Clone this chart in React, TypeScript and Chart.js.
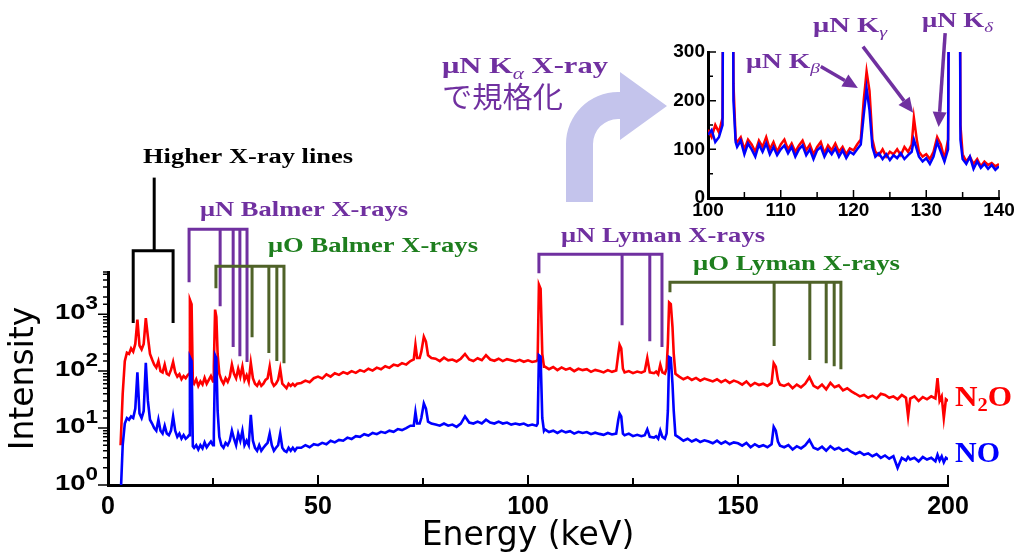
import React, { useEffect, useRef } from 'react';
import { Chart, registerables } from 'chart.js';

Chart.register(...registerables);

// ---------------- Main spectrum (log scale) ----------------
const energyKeV = [
  3, 3.5, 4, 4.5, 5, 5.5, 6, 6.5, 7, 7.5,
  8, 8.5, 9, 9.5, 10, 10.5, 11, 11.5, 12, 12.5,
  13, 13.5, 14, 14.5, 15, 15.5, 16, 16.5, 17, 17.5,
  18, 18.5, 19, 19.3, 19.5, 19.9, 20.2,
  20.5, 21, 21.5, 22, 22.5, 23, 23.5, 24, 24.5, 25, 25.2,
  25.5, 25.8, 26.1, 26.5,
  27, 27.5, 28, 28.5, 29, 29.5, 30, 30.5, 31, 31.5,
  32, 32.5, 33, 33.5, 34, 34.5, 35, 35.5, 36, 36.5,
  37, 37.5, 38, 38.5, 39, 39.5, 40, 40.5, 41, 41.5,
  42, 42.5, 43, 43.5, 44, 44.5, 45,
  46, 47, 48, 49, 50, 51, 52, 53, 54, 55,
  56, 57, 58, 59, 60, 61, 62, 63, 64, 65,
  66, 67, 68, 69, 70, 71, 72,
  72.8, 73.2, 73.6, 74.2, 74.6, 75.2, 75.7, 76.2, 77,
  78, 79, 80, 81, 82, 83, 84, 85, 86, 87,
  88, 89, 90, 91, 92, 93, 94, 95, 96, 97,
  98, 99, 100, 101, 102,
  102.3, 102.6, 103, 103.4, 103.8,
  104, 105, 106, 107, 108, 109, 110, 111, 112, 113,
  114, 115, 116, 117, 118, 119, 120, 121,
  121.5, 121.8, 122.2, 122.6,
  123, 124, 125, 126, 127, 127.8, 128.4, 129, 130, 130.5, 131, 131.5, 132, 132.6, 133,
  133.3, 133.6, 134, 134.4, 134.7, 135.1,
  136, 137, 138, 139, 140, 141, 142, 143, 144, 145,
  146, 147, 148, 149, 150, 151, 152, 153, 154, 155,
  156, 157, 158, 158.5, 159, 159.5, 160, 161, 162, 163,
  164, 165, 166, 167, 168, 169, 170, 171, 172, 173,
  174, 175, 176, 177, 178, 179, 180, 181, 182, 183,
  184, 185, 186, 187, 188, 189, 190, 190.5, 191, 192,
  193, 194, 195, 196, 197, 197.5, 198, 198.5, 199, 199.5, 200,
];

const n2oCounts = [
  5, 40, 150, 210, 200, 250, 220, 300, 800, 280,
  240, 300, 850, 400, 200, 160, 130, 115, 150, 100,
  95, 130, 90, 85, 105, 145, 95, 80, 88, 72,
  82, 75, 85, 90, 1800, 1500, 65,
  60, 72, 55, 66, 58, 76, 60, 70, 82, 66, 120,
  1200, 900, 200, 90,
  70, 60, 75, 65, 80, 130, 90, 75, 110, 80,
  120, 70, 85, 65, 140, 75, 60, 55, 65, 55,
  60, 70, 75, 120, 65, 55, 60, 70, 110, 60,
  55, 50, 60, 55, 60, 55, 60,
  62, 68, 64, 75, 80, 74, 88, 80, 92, 86,
  96, 90, 100, 93, 104, 98, 110, 102, 115, 108,
  122, 114, 130, 124, 138, 130, 150,
  160, 290, 170, 170, 220, 400, 330, 190, 170,
  165, 150, 172, 155, 160, 148, 165, 200, 160, 150,
  168, 155, 190, 160, 152, 165, 150, 162, 155, 148,
  158, 146, 155, 145, 150,
  160, 3300, 2800, 200, 120,
  120, 108, 118, 104, 116, 106, 112, 100, 110, 104,
  108, 97, 105, 100, 95, 104, 97, 102,
  200, 290, 250, 110,
  95, 100, 92, 98, 94, 100, 170, 95, 92, 98, 88, 130, 95, 90, 110,
  300, 1600, 1500, 600, 200, 90,
  80, 72, 78, 70, 76, 68, 74, 70, 66, 72,
  64, 70, 62, 68, 64, 58, 66, 55, 62, 57,
  60, 55, 62, 138, 120, 70, 58, 55, 60, 50,
  58, 52, 60, 78, 55, 50, 58, 48, 62, 52,
  56, 46, 50, 44, 40, 36, 38, 34, 37, 33,
  40, 38, 34, 36, 32, 38, 34, 16, 33, 36,
  30, 35, 32, 36, 33, 75, 30, 36, 15, 32, 30,
];

const noCounts = [
  0.6, 5, 12, 15, 14, 16, 15, 22, 95, 18,
  15, 20, 140, 30, 14, 12, 10, 9, 14, 9,
  8, 11, 8, 7.5, 9, 16, 9, 7, 8, 6.5,
  7.5, 6.5, 7, 7.5, 175, 150, 4.8,
  4.5, 5, 4.2, 5, 4.4, 5.6, 4.6, 5.2, 5.8, 5, 8,
  190, 170, 20, 7,
  5, 4.5, 5.5, 5, 6, 9, 6.5, 5, 8, 6,
  9, 5, 6, 5, 17, 6, 4.5, 4, 5, 4,
  4.5, 5, 5.5, 8, 5, 4, 4.5, 5, 8, 4.5,
  4, 3.8, 4.5, 4, 4.5, 4, 4.5,
  4.5, 5, 4.6, 5.2, 5, 5.5, 5.2, 6, 5.6, 6.2,
  6, 6.8, 6.4, 7.2, 7, 7.8, 7.4, 8.2, 7.8, 8.6,
  8.2, 9, 8.6, 9.6, 9.2, 10, 11,
  11, 19, 12, 12, 15, 27, 22, 13, 12,
  11.5, 11, 12, 11, 11.5, 10.5, 12, 16, 12.5, 12,
  13, 12, 14, 12.5, 12, 13, 12, 12.5, 11.5, 12,
  11.5, 12, 11, 11.5, 11,
  12, 190, 180, 15, 9,
  9.5, 8.5, 9, 8.2, 9, 8.4, 8.8, 8, 8.6, 8.2,
  8.5, 7.8, 8.3, 7.9, 7.6, 8.2, 7.7, 8,
  14, 18, 16, 8,
  7.5, 8, 7.2, 7.6, 7.2, 7.5, 9.5, 7, 6.8, 7.2, 6.5, 9, 7, 6.5, 8,
  20, 177, 170, 60, 20, 7.5,
  6.8, 6, 6.5, 5.8, 6.3, 5.7, 6.1, 5.8, 5.4, 6,
  5.3, 5.8, 5.2, 5.6, 5.4, 4.9, 5.5, 4.6, 5.2, 4.7,
  5, 4.6, 5.2, 10.5, 9, 5.8, 4.9, 4.6, 5, 4.2,
  4.8, 4.4, 5, 6.2, 4.5, 4.2, 4.7, 4, 4.8, 4.2,
  4.5, 4, 4.3, 3.8, 3.5, 3.8, 3.4, 3.6, 3.2, 3.5,
  3, 3.3, 2.9, 3.2, 2, 3, 2.7, 3.1, 2.8, 3,
  2.6, 3.1, 2.8, 3, 2.6, 3.4, 2.7, 3.2, 2.5, 3, 2.8,
];

const yTickPowers = [0, 1, 2, 3];

// ---------------- Inset (normalised, linear) ----------------
const insetEnergyKeV = [
  100, 100.5, 101, 101.5, 102, 102.2, 103.3, 103.5, 103.8, 104,
  104.5, 105, 105.5, 106, 106.5, 107, 107.5, 108, 108.5, 109,
  109.5, 110, 110.5, 111, 111.5, 112, 112.5, 113, 113.5, 114,
  114.5, 115, 115.5, 116, 116.5, 117, 117.5, 118, 118.5, 119,
  119.5, 120, 120.5, 121, 121.4, 121.8, 122.2, 122.6, 123, 123.5,
  124, 124.5, 125, 125.5, 126, 126.5, 127, 127.5, 128, 128.3,
  128.7, 129, 129.5, 130, 130.5, 131, 131.5, 132, 132.5, 133,
  133.3, 134.5, 134.7, 135, 135.5, 136, 136.5, 137, 137.5, 138,
  138.5, 139, 139.5, 140,
];

const insetN2O = [
  140, 125, 150, 135, 165, 1000, 1000, 235, 120, 115,
  125, 100, 120, 110, 95, 118, 105, 125, 100, 115,
  95, 110, 120, 100, 112, 95, 108, 118, 98, 110,
  90, 105, 115, 92, 108, 98, 112, 95, 105, 90,
  102, 98, 110, 120, 200, 260, 220, 120, 95, 88,
  100, 85, 95, 90, 100, 88, 105, 95, 110, 165,
  120, 95, 85, 90, 80, 95, 125, 110, 80, 120,
  1000, 1000, 150, 90, 75, 85, 70, 80, 65, 75,
  68, 72, 65, 70,
];

const insetNO = [
  130, 140, 115, 125, 150, 1000, 1000, 200, 115, 105,
  118, 90, 112, 100, 85, 110, 95, 112, 90, 105,
  88, 100, 108, 92, 105, 85, 100, 108, 88, 100,
  80, 98, 105, 85, 100, 90, 102, 85, 98, 82,
  95, 90, 100, 110, 170, 225, 180, 105, 85, 92,
  80, 90, 78, 88, 82, 92, 80, 88, 95, 120,
  100, 85, 75, 82, 70, 85, 115, 95, 75, 100,
  1000, 1000, 120, 80, 70, 85, 60, 75, 62, 70,
  60, 68, 58, 65,
];

// ---------------- Line assignments (energies in keV, levels in counts) ----------------
const higherLegsKeV = [6.0, 15.5];
const higherLegEnds = [700, 700];
const higherBar = 13000;
const higherStemKeV = 11;
const higherStemTop = 250000;

const nBalmerKeV = [19.3, 26.7, 29.8, 31.4, 33.1];
const nBalmerEnds = [3640, 1380, 264, 183, 144];
const nBalmerBar = 31000;

const oBalmerKeV = [25.7, 34.3, 38.3, 40.2, 41.9];
const oBalmerEnds = [2860, 395, 207, 150, 138];
const oBalmerBar = 6950;

const nLymanKeV = [102.6, 122.4, 129.0, 131.9];
const nLymanEnds = [5240, 641, 336, 264];
const nLymanBar = 11300;

const oLymanKeV = [133.8, 158.6, 167.1, 171.0, 172.9, 174.5];
const oLymanEnds = [2430, 275, 156, 138, 122, 108];
const oLymanBar = 3640;

// inset arrows: [startE, startVal, endE, endVal]
const insetArrows = [
  [115.5, 270, 120.6, 226],
  [121.3, 311, 128.2, 175],
  [132.6, 339, 131.7, 146],
];

const PURPLE = '#7030A0';
const OLIVE = '#4F6228';
const GREEN = '#1E7E1E';
const SERIF = '"Liberation Serif", "Times New Roman", serif';
const SANS = '"Liberation Sans", Arial, sans-serif';

type Run = { t: string; font: string; dy?: number };

function drawRuns(ctx: CanvasRenderingContext2D, runs: Run[], x: number, y: number, targetW: number, color: string) {
  ctx.save();
  ctx.fillStyle = color;
  ctx.textBaseline = 'alphabetic';
  ctx.textAlign = 'left';
  let total = 0;
  for (const r of runs) {
    ctx.font = r.font;
    total += ctx.measureText(r.t).width;
  }
  const sx = targetW ? targetW / total : 1;
  ctx.translate(x, y);
  ctx.scale(sx, 1);
  let cx = 0;
  for (const r of runs) {
    ctx.font = r.font;
    ctx.fillText(r.t, cx, r.dy || 0);
    cx += ctx.measureText(r.t).width;
  }
  ctx.restore();
}

function drawBracket(ctx: CanvasRenderingContext2D, xs: any, ys: any, legs: number[], ends: number[], bar: number, color: string) {
  const yBar = ys.getPixelForValue(bar);
  const px = legs.map((e) => xs.getPixelForValue(e));
  const last = px.length - 1;
  ctx.save();
  ctx.strokeStyle = color;
  ctx.lineWidth = 3;
  ctx.lineJoin = 'miter';
  ctx.beginPath();
  ctx.moveTo(px[0], ys.getPixelForValue(ends[0]));
  ctx.lineTo(px[0], yBar);
  ctx.lineTo(px[last], yBar);
  ctx.lineTo(px[last], ys.getPixelForValue(ends[last]));
  for (let i = 1; i < last; i++) {
    ctx.moveTo(px[i], yBar);
    ctx.lineTo(px[i], ys.getPixelForValue(ends[i]));
  }
  ctx.stroke();
  ctx.restore();
}

function drawArrow(ctx: CanvasRenderingContext2D, x1: number, y1: number, x2: number, y2: number, color: string) {
  const dx = x2 - x1;
  const dy = y2 - y1;
  const len = Math.hypot(dx, dy);
  const ux = dx / len;
  const uy = dy / len;
  const head = 15;
  const hw = 7;
  const bx = x2 - ux * head;
  const by = y2 - uy * head;
  ctx.save();
  ctx.strokeStyle = color;
  ctx.fillStyle = color;
  ctx.lineWidth = 3.5;
  ctx.beginPath();
  ctx.moveTo(x1, y1);
  ctx.lineTo(bx, by);
  ctx.stroke();
  ctx.beginPath();
  ctx.moveTo(x2, y2);
  ctx.lineTo(bx - uy * hw, by + ux * hw);
  ctx.lineTo(bx + uy * hw, by - ux * hw);
  ctx.closePath();
  ctx.fill();
  ctx.restore();
}

const mainDecor = {
  id: 'mainDecor',
  afterDraw(chart: any) {
    const ctx: CanvasRenderingContext2D = chart.ctx;
    const xs = chart.scales.x;
    const ys = chart.scales.y;
    const area = chart.chartArea;

    // y ticks (outside, left)
    ctx.save();
    ctx.strokeStyle = '#000';
    ctx.lineWidth = 1.5;
    ctx.beginPath();
    for (const t of ys.ticks) {
      const py = ys.getPixelForValue(t.value);
      const major = yTickPowers.some((p) => Math.abs(Math.pow(10, p) - t.value) < 1e-9);
      ctx.moveTo(area.left - (major ? 10 : 5), py);
      ctx.lineTo(area.left, py);
    }
    ctx.stroke();
    // x ticks (inside, upward)
    ctx.lineWidth = 2;
    ctx.beginPath();
    for (const t of xs.ticks) {
      const px = xs.getPixelForValue(t.value);
      const len = t.value % 50 === 0 ? 10 : 7;
      ctx.moveTo(px, area.bottom);
      ctx.lineTo(px, area.bottom - len);
    }
    ctx.stroke();
    ctx.restore();

    // y tick labels 10^n
    for (const p of yTickPowers) {
      const py = ys.getPixelForValue(Math.pow(10, p));
      drawRuns(ctx, [
        { t: '10', font: `bold 22px ${SANS}` },
        { t: String(p), font: `bold 18px ${SANS}`, dy: -10 },
      ], 55, py + 5, 43, '#000');
    }

    // big curved arrow
    ctx.save();
    ctx.fillStyle = '#C4C4EC';
    ctx.beginPath();
    ctx.moveTo(566, 202);
    ctx.lineTo(566, 144);
    ctx.arc(618, 144, 52, Math.PI, 1.5 * Math.PI);
    ctx.lineTo(620, 92);
    ctx.lineTo(620, 72);
    ctx.lineTo(667, 106);
    ctx.lineTo(620, 140);
    ctx.lineTo(620, 119);
    ctx.lineTo(618, 119);
    ctx.arc(618, 144, 25, 1.5 * Math.PI, Math.PI, true);
    ctx.lineTo(593, 202);
    ctx.closePath();
    ctx.fill();
    ctx.restore();

    // brackets
    drawBracket(ctx, xs, ys, higherLegsKeV, higherLegEnds, higherBar, '#000');
    ctx.save();
    ctx.strokeStyle = '#000';
    ctx.lineWidth = 3;
    ctx.beginPath();
    ctx.moveTo(xs.getPixelForValue(higherStemKeV), ys.getPixelForValue(higherBar));
    ctx.lineTo(xs.getPixelForValue(higherStemKeV), ys.getPixelForValue(higherStemTop));
    ctx.stroke();
    ctx.restore();
    drawBracket(ctx, xs, ys, nBalmerKeV, nBalmerEnds, nBalmerBar, PURPLE);
    drawBracket(ctx, xs, ys, oBalmerKeV, oBalmerEnds, oBalmerBar, OLIVE);
    drawBracket(ctx, xs, ys, nLymanKeV, nLymanEnds, nLymanBar, PURPLE);
    drawBracket(ctx, xs, ys, oLymanKeV, oLymanEnds, oLymanBar, OLIVE);

    // labels
    const b20 = `bold 20px ${SERIF}`;
    const b21 = `bold 21px ${SERIF}`;
    drawRuns(ctx, [{ t: 'Higher X-ray lines', font: b20 }], 143, 163, 210, '#000');
    drawRuns(ctx, [{ t: 'μN Balmer X-rays', font: b21 }], 200, 216, 208, PURPLE);
    drawRuns(ctx, [{ t: 'μO Balmer X-rays', font: b21 }], 268, 252, 210, GREEN);
    drawRuns(ctx, [{ t: 'μN Lyman X-rays', font: b21 }], 561, 242, 204, PURPLE);
    drawRuns(ctx, [{ t: 'μO Lyman X-rays', font: b21 }], 693, 270, 207, GREEN);
    drawRuns(ctx, [
      { t: 'N', font: `bold 29px ${SERIF}` },
      { t: '2', font: `bold 19px ${SERIF}`, dy: 5 },
      { t: 'O', font: `bold 29px ${SERIF}` },
    ], 955, 406, 57, '#FF0000');
    drawRuns(ctx, [{ t: 'NO', font: `bold 29px ${SERIF}` }], 955, 462, 45, '#0000FF');
    drawRuns(ctx, [
      { t: 'μN K', font: `bold 23px ${SERIF}` },
      { t: 'α', font: `italic 16px ${SERIF}`, dy: 6 },
      { t: ' X-ray', font: `bold 23px ${SERIF}` },
    ], 442, 73, 166, PURPLE);
    drawRuns(ctx, [{ t: 'で規格化', font: `29px "Noto Sans CJK JP", sans-serif` }], 442, 108, 121, PURPLE);
  },
};

const insetDecor = {
  id: 'insetDecor',
  afterDraw(chart: any) {
    const ctx: CanvasRenderingContext2D = chart.ctx;
    const xs = chart.scales.x;
    const ys = chart.scales.y;
    const area = chart.chartArea;
    ctx.save();
    ctx.strokeStyle = '#000';
    ctx.lineWidth = 1.5;
    ctx.beginPath();
    for (const t of xs.ticks) {
      const px = xs.getPixelForValue(t.value);
      const len = t.value % 10 === 0 ? 8 : 6;
      ctx.moveTo(px, area.bottom);
      ctx.lineTo(px, area.bottom - len);
    }
    for (const t of ys.ticks) {
      const py = ys.getPixelForValue(t.value);
      const len = t.value % 100 === 0 ? 8 : 5;
      ctx.moveTo(area.left, py);
      ctx.lineTo(area.left + len, py);
    }
    ctx.stroke();
    ctx.restore();

    for (const a of insetArrows) {
      drawArrow(ctx, xs.getPixelForValue(a[0]), ys.getPixelForValue(a[1]), xs.getPixelForValue(a[2]), ys.getPixelForValue(a[3]), PURPLE);
    }
    const b20 = `bold 20px ${SERIF}`;
    const sub = `italic 14px ${SERIF}`;
    drawRuns(ctx, [{ t: 'μN K', font: b20 }, { t: 'β', font: sub, dy: 5 }], 746 - 650, 68, 74, PURPLE);
    drawRuns(ctx, [{ t: 'μN K', font: b20 }, { t: 'γ', font: sub, dy: 5 }], 813 - 650, 32, 74, PURPLE);
    drawRuns(ctx, [{ t: 'μN K', font: b20 }, { t: 'δ', font: sub, dy: 5 }], 922 - 650, 27, 71, PURPLE);
  },
};

export default function App() {
  const mainRef = useRef<HTMLCanvasElement>(null);
  const insetRef = useRef<HTMLCanvasElement>(null);

  useEffect(() => {
    const mainChart = new Chart(mainRef.current as HTMLCanvasElement, {
      type: 'line',
      data: {
        datasets: [
          {
            label: 'NO',
            data: energyKeV.map((e, i) => ({ x: e, y: noCounts[i] })),
            borderColor: '#0000FF',
            borderWidth: 2.6,
            pointRadius: 0,
            tension: 0,
          },
          {
            label: 'N2O',
            data: energyKeV.map((e, i) => ({ x: e, y: n2oCounts[i] })),
            borderColor: '#FF0000',
            borderWidth: 2.6,
            pointRadius: 0,
            tension: 0,
          },
        ],
      },
      options: {
        animation: false,
        responsive: false,
        events: [],
        layout: { padding: { left: 0, right: 70, top: 272, bottom: 0 } },
        plugins: { legend: { display: false }, tooltip: { enabled: false } },
        scales: {
          x: {
            type: 'linear',
            min: 0,
            max: 200,
            ticks: {
              stepSize: 25,
              autoSkip: false,
              maxRotation: 0,
              padding: 7,
              color: '#000',
              font: { family: SANS, size: 25, weight: 'bold' },
              callback: (v: any) => (Number(v) % 50 === 0 ? String(v) : ''),
            },
            grid: { display: false, drawTicks: false },
            border: { display: true, width: 3, color: '#000' },
            title: {
              display: true,
              text: 'Energy (keV)',
              color: '#000',
              font: { family: '"DejaVu Sans", sans-serif', size: 33 },
              padding: { top: 0, bottom: 1 },
            },
            afterFit: (s: any) => {
              s.height = 72;
            },
          },
          y: {
            type: 'logarithmic',
            min: 1,
            max: 5500,
            ticks: { display: false },
            grid: { display: false, drawTicks: false },
            border: { display: true, width: 3, color: '#000' },
            title: {
              display: true,
              text: 'Intensity',
              color: '#000',
              font: { family: '"DejaVu Sans", sans-serif', size: 33 },
              padding: { top: 5, bottom: 0 },
            },
            afterFit: (s: any) => {
              s.width = 108;
            },
          },
        },
      } as any,
      plugins: [mainDecor],
    });

    const insetChart = new Chart(insetRef.current as HTMLCanvasElement, {
      type: 'line',
      data: {
        datasets: [
          {
            label: 'NO',
            data: insetEnergyKeV.map((e, i) => ({ x: e, y: insetNO[i] })),
            borderColor: '#0000FF',
            borderWidth: 2.5,
            pointRadius: 0,
            tension: 0,
          },
          {
            label: 'N2O',
            data: insetEnergyKeV.map((e, i) => ({ x: e, y: insetN2O[i] })),
            borderColor: '#FF0000',
            borderWidth: 2.5,
            pointRadius: 0,
            tension: 0,
          },
        ],
      },
      options: {
        animation: false,
        responsive: false,
        events: [],
        layout: { padding: { left: 0, right: 19, top: 52, bottom: 0 } },
        plugins: { legend: { display: false }, tooltip: { enabled: false } },
        scales: {
          x: {
            type: 'linear',
            min: 100,
            max: 140,
            ticks: {
              stepSize: 5,
              autoSkip: false,
              maxRotation: 0,
              padding: 1,
              color: '#000',
              font: { family: SANS, size: 19, weight: 'bold' },
              callback: (v: any) => (Number(v) % 10 === 0 ? String(v) : ''),
            },
            grid: { display: false, drawTicks: false },
            border: { display: true, width: 3, color: '#000' },
            afterFit: (s: any) => {
              s.height = 32;
            },
          },
          y: {
            type: 'linear',
            min: 0,
            max: 300,
            ticks: {
              stepSize: 50,
              autoSkip: false,
              padding: 3,
              color: '#000',
              font: { family: SANS, size: 19, weight: 'bold' },
              callback: (v: any) => (Number(v) % 100 === 0 ? String(v) : ''),
            },
            grid: { display: false, drawTicks: false },
            border: { display: true, width: 3, color: '#000' },
            afterFit: (s: any) => {
              s.width = 58;
            },
          },
        },
      } as any,
      plugins: [insetDecor],
    });

    return () => {
      mainChart.destroy();
      insetChart.destroy();
    };
  }, []);

  return (
    <div style={{ position: 'absolute', left: 0, top: 0, width: 1018, height: 557, background: '#fff', overflow: 'hidden' }}>
      <canvas ref={mainRef} width={1018} height={557} style={{ position: 'absolute', left: 0, top: 0 }} />
      <canvas ref={insetRef} width={368} height={230} style={{ position: 'absolute', left: 650, top: 0 }} />
    </div>
  );
}
